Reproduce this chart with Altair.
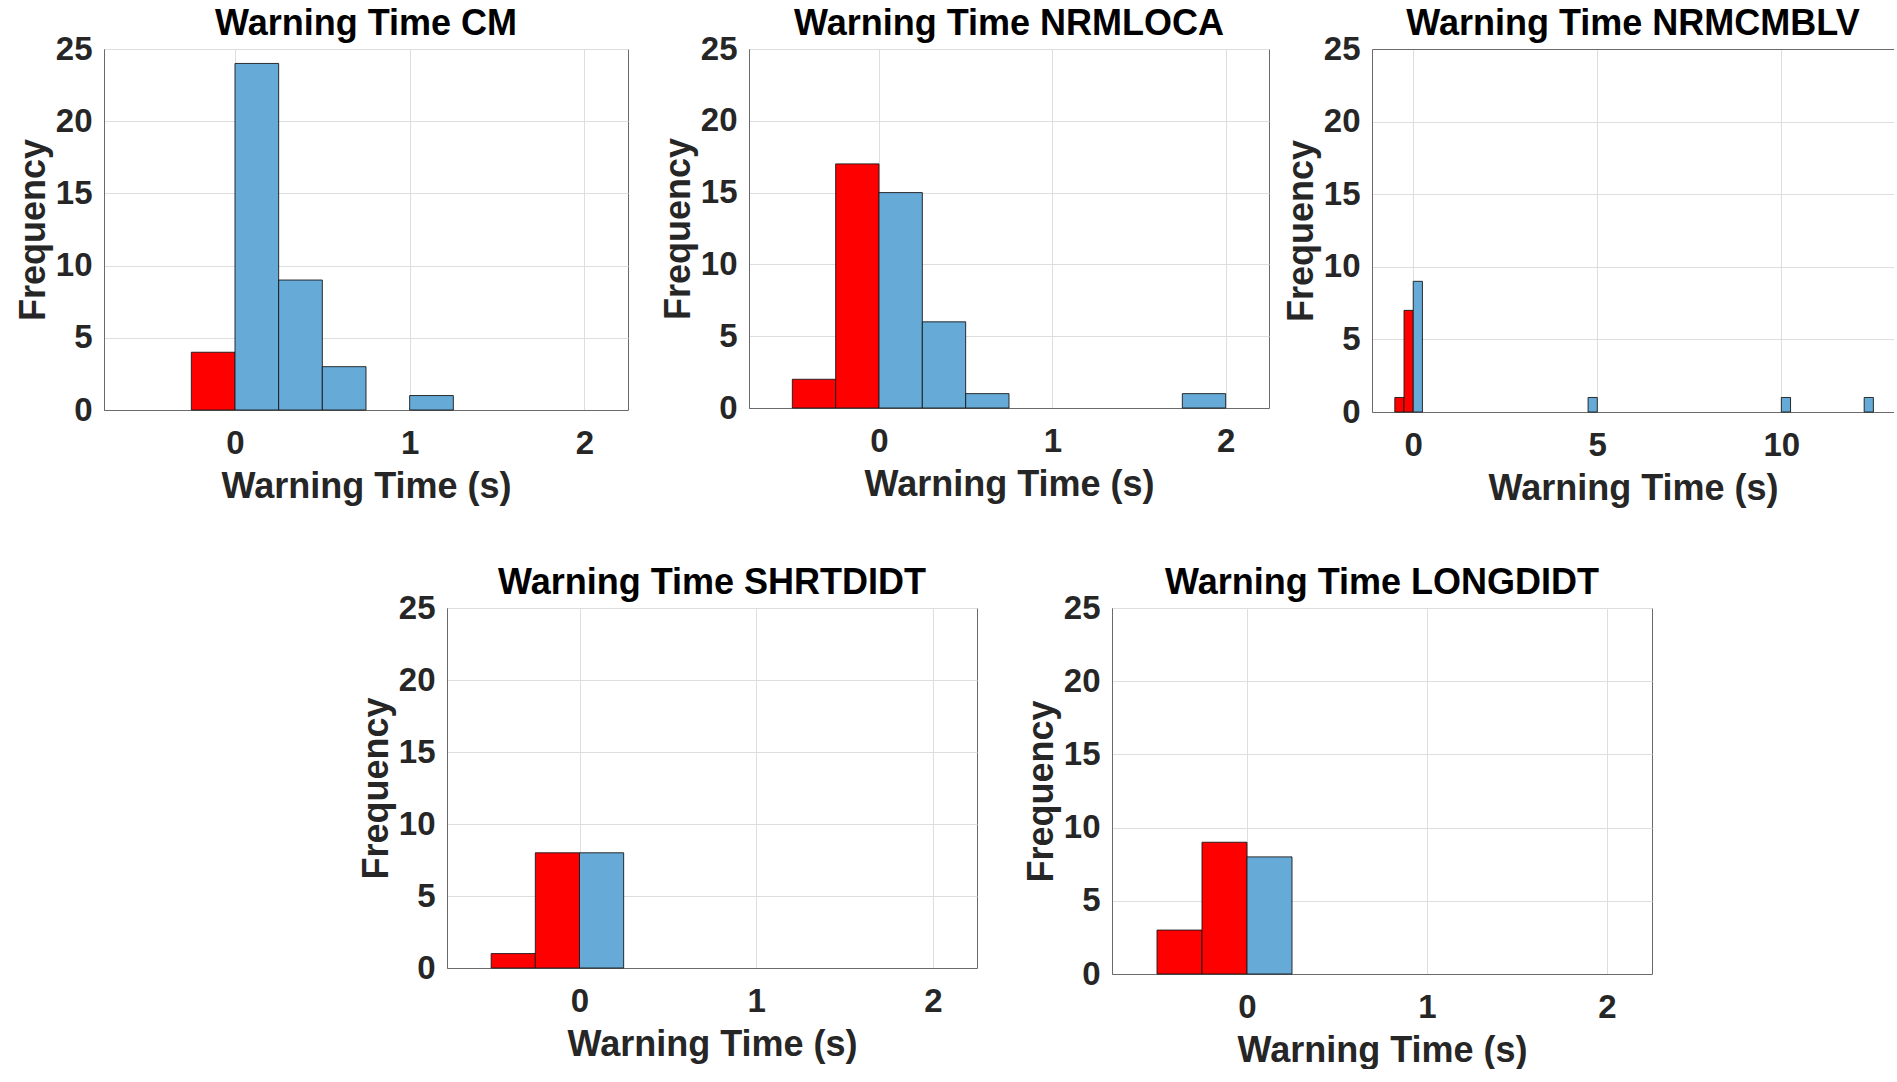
import altair as alt
import pandas as pd

# ---------------- data ----------------
BIN_WIDTH = 0.25
TITLES = [
    "Warning Time CM",
    "Warning Time NRMLOCA",
    "Warning Time NRMCMBLV",
    "Warning Time SHRTDIDT",
    "Warning Time LONGDIDT",
]

CM_RED_START = [-0.25]
CM_RED_COUNT = [4]
CM_BLUE_START = [0.0, 0.25, 0.5, 1.0]
CM_BLUE_COUNT = [24, 9, 3, 1]

NRMLOCA_RED_START = [-0.5, -0.25]
NRMLOCA_RED_COUNT = [2, 17]
NRMLOCA_BLUE_START = [0.0, 0.25, 0.5, 1.75]
NRMLOCA_BLUE_COUNT = [15, 6, 1, 1]

NRMCMBLV_RED_START = [-0.5, -0.25]
NRMCMBLV_RED_COUNT = [1, 7]
NRMCMBLV_BLUE_START = [0.0, 4.75, 10.0, 12.25]
NRMCMBLV_BLUE_COUNT = [9, 1, 1, 1]

SHRTDIDT_RED_START = [-0.5, -0.25]
SHRTDIDT_RED_COUNT = [1, 8]
SHRTDIDT_BLUE_START = [0.0]
SHRTDIDT_BLUE_COUNT = [8]

LONGDIDT_RED_START = [-0.5, -0.25]
LONGDIDT_RED_COUNT = [3, 9]
LONGDIDT_BLUE_START = [0.0]
LONGDIDT_BLUE_COUNT = [8]

X_DOMAINS = [[-0.75, 2.25], [-0.75, 2.25], [-1.12, 13.06], [-0.75, 2.25], [-0.75, 2.25]]
X_TICKS = [[0, 1, 2], [0, 1, 2], [0, 5, 10], [0, 1, 2], [0, 1, 2]]
Y_DOMAIN = [0, 25]
Y_TICKS = [0, 5, 10, 15, 20, 25]
X_TITLE = "Warning Time (s)"
Y_TITLE = "Frequency"

# ---------------- styling ----------------
FONT = "Liberation Sans"
RED = "#ff0000"
BLUE = "#66aad7"
BOX = "#6a6a6a"
GRID = "#dedede"
TXT = "#262626"


def make_df(rs, rc, bs, bc):
    rows = []
    for s, c in zip(rs, rc):
        rows.append({"start": s, "end": s + BIN_WIDTH, "count": c, "group": "neg"})
    for s, c in zip(bs, bc):
        rows.append({"start": s, "end": s + BIN_WIDTH, "count": c, "group": "pos"})
    return pd.DataFrame(rows)


def x_enc(dom, ticks):
    return alt.X(
        "start:Q",
        scale=alt.Scale(domain=dom, nice=False, zero=False),
        axis=alt.Axis(
            values=ticks, title=X_TITLE, grid=True, gridColor=GRID, gridWidth=1,
            ticks=False, domain=True, domainColor=BOX, domainWidth=1,
            labelPadding=43, labelBaseline="alphabetic", labelFlush=False,
            labelOverlap=False, titleY=87, titleBaseline="alphabetic",
        ),
    )


def y_enc():
    return alt.Y(
        "count:Q",
        stack=None,
        scale=alt.Scale(domain=Y_DOMAIN, nice=False),
        axis=alt.Axis(
            values=Y_TICKS, title=Y_TITLE, grid=True, gridColor=GRID, gridWidth=1,
            ticks=False, domain=True, domainColor=BOX, domainWidth=1,
            labelPadding=12, labelFlush=False, labelOverlap=False,
            titleX=-60, titleBaseline="alphabetic", titleAngle=270,
        ),
    )


COLOR = alt.Color("group:N", scale=alt.Scale(domain=["neg", "pos"], range=[RED, BLUE]), legend=None)


def title_params(t, off=-38):
    return alt.TitleParams(
        t, fontSize=36, font=FONT, fontWeight="bold", color="black",
        offset=off, baseline="alphabetic", anchor="middle",
    )


def bars(i, df):
    return (
        alt.Chart(df)
        .mark_bar(stroke="#1a1a1a", strokeWidth=1, strokeOpacity=0.9)
        .encode(x=x_enc(X_DOMAINS[i], X_TICKS[i]), x2="end:Q",
                y=y_enc(), y2=alt.datum(0), color=COLOR)
    )


def panel(i, df, w, h):
    return bars(i, df).properties(width=w, height=h, title=title_params(TITLES[i]))


df_cm = make_df(CM_RED_START, CM_RED_COUNT, CM_BLUE_START, CM_BLUE_COUNT)
df_loca = make_df(NRMLOCA_RED_START, NRMLOCA_RED_COUNT, NRMLOCA_BLUE_START, NRMLOCA_BLUE_COUNT)
df_blv = make_df(NRMCMBLV_RED_START, NRMCMBLV_RED_COUNT, NRMCMBLV_BLUE_START, NRMCMBLV_BLUE_COUNT)
df_shrt = make_df(SHRTDIDT_RED_START, SHRTDIDT_RED_COUNT, SHRTDIDT_BLUE_START, SHRTDIDT_BLUE_COUNT)
df_long = make_df(LONGDIDT_RED_START, LONGDIDT_RED_COUNT, LONGDIDT_BLUE_START, LONGDIDT_BLUE_COUNT)

p1 = panel(0, df_cm, 524, 361)
p2 = panel(1, df_loca, 520, 359)

# third panel: cut off at the right edge -> no right border
top3 = (
    alt.Chart(df_blv)
    .mark_bar(opacity=0)
    .encode(
        x=alt.X("start:Q", scale=alt.Scale(domain=X_DOMAINS[2], nice=False, zero=False),
                axis=alt.Axis(orient="top", labels=False, ticks=False, grid=False,
                              domain=True, domainColor=BOX, domainWidth=1, title=None)),
        x2="end:Q",
        y=y_enc(),
        y2=alt.datum(0),
    )
)
p3 = (
    alt.layer(bars(2, df_blv), top3)
    .resolve_axis(x="independent")
    .properties(width=522, height=363, title=title_params(TITLES[2]),
                view=alt.ViewBackground(stroke=None))
)

p4 = panel(3, df_shrt, 530, 360)
p5 = panel(4, df_long, 540, 366)

spacer = (
    alt.Chart(pd.DataFrame({"v": [0]}))
    .mark_point(opacity=0)
    .encode(x=alt.X("v:Q", axis=None), y=alt.Y("v:Q", axis=None))
    .properties(width=209, height=1, view=alt.ViewBackground(stroke=None, fill="white"))
)

top_inner = alt.hconcat(p1, p2, spacing=30)
top_row = alt.hconcat(top_inner, p3, spacing=13)
bottom_row = alt.hconcat(spacer, p4, p5, spacing=44)

chart = (
    alt.vconcat(top_row, bottom_row, spacing=58)
    .properties(padding={"left": 14, "top": 5, "right": 0, "bottom": 0})
    .configure(background="white")
    .configure_view(stroke=BOX, strokeWidth=1)
    .configure_axis(
        labelFont=FONT, labelFontWeight="bold", labelFontSize=33, labelColor=TXT,
        titleFont=FONT, titleFontWeight="bold", titleFontSize=36, titleColor=TXT,
    )
)

chart.save("out.html", embed_options={"renderer": "svg", "actions": False})
